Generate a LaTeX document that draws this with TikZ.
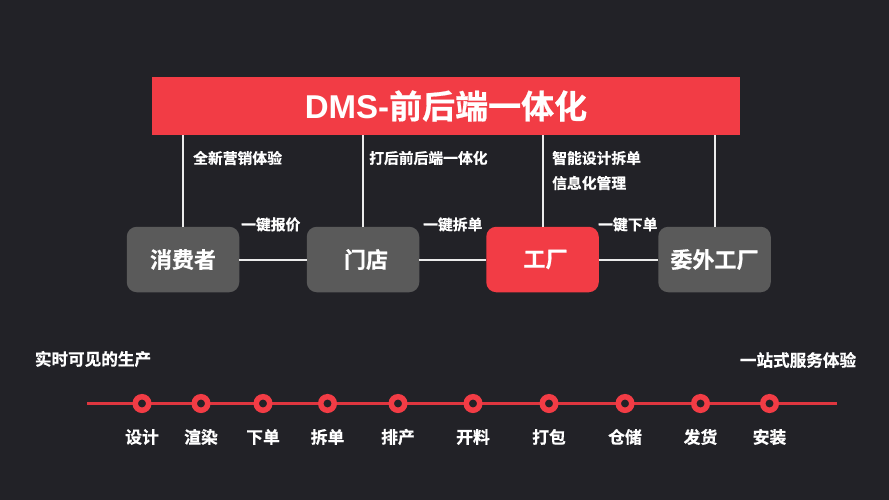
\documentclass[tikz,border=0pt]{standalone}
\usepackage{fontspec}
\setmainfont{Noto Sans CJK SC}[BoldFont={Noto Sans CJK SC Bold},BoldFeatures={FakeBold=0.6}]
\newfontfamily\titlelatin{Liberation Sans Bold}
\definecolor{bgdark}{HTML}{222227}
\definecolor{dmsred}{HTML}{F23C45}
\definecolor{boxgray}{HTML}{5A5A5A}
\definecolor{linered}{HTML}{DF363F}
\tikzset{
  every node/.style={text=white,font=\bfseries,inner sep=0pt},
  partybox/.style={fill=boxgray,rounded corners=10pt,minimum width=112.5pt,minimum height=65.5pt,font=\bfseries\fontsize{22}{22}\selectfont},
  redbox/.style={partybox,fill=dmsred},
  link/.style={draw=white!92!black,line width=2pt},
  note/.style={anchor=west,font=\bfseries\fontsize{14.8}{15}\selectfont},
  stagetag/.style={font=\bfseries\fontsize{16.6}{17}\selectfont},
  dot/.style={circle,draw=dmsred,line width=5.5pt,fill=bgdark,minimum size=13.5pt},
  daylabel/.style={font=\bfseries\fontsize{16.8}{17}\selectfont}
}
\begin{document}
\begin{tikzpicture}[x=1pt,y=-1pt]
  \useasboundingbox[fill=bgdark] (0,0) rectangle (889,500);
  \node[fill=dmsred,minimum width=588pt,minimum height=58pt,font=\bfseries\fontsize{33}{33}\selectfont] (header) at (446,106) {{\titlelatin DMS-}前后端一体化\hspace{3pt}};
  \node[partybox] (consumer) at (183,259.5) {消费者};
  \node[partybox] (store) at (363,259.5) {\hspace{6pt}门店};
  \node[redbox] (factory) at (542.5,259.5) {\hspace{6pt}工厂};
  \node[partybox] (outsource) at (714.5,259.5) {委外工厂};
  % risers up to the header
  \foreach \n in {consumer,store,factory,outsource}
    \draw[link] (\n.north) -- (\n.north |- header.south);
  \draw[link] (consumer) -- (store);
  \draw[link] (store) -- (factory);
  \draw[link] (factory) -- (outsource);
  \node[note] (noteA) at (193,158) {全新营销体验};
  \node[note] (noteB) at (369,158) {打后前后端一体化};
  \node[note] (noteC) at (552,158) {智能设计拆单};
  \node[note] (noteD) at (552,183) {信息化管理};
  \node[note] (quote) at (241,224.5) {一键报价};
  \node[note] (split) at (423,224.5) {一键拆单};
  \node[note] (order) at (598,224.5) {一键下单};
  \node[stagetag] (liveview) at (93,359) {实时可见的生产};
  \node[stagetag] (onestop) at (798,360) {一站式服务体验};
  % timeline
  \coordinate (tlstart) at (87,403.5);
  \coordinate (tlend) at (837,403.5);
  \draw[linered,line width=3pt] (tlstart) -- (tlend);
  \foreach \x/\t [count=\i] in {142/设计,201/渲染,263/下单,327.5/拆单,398/排产,473/开料,549/打包,625/仓储,700.5/发货,769.5/安装}{
    \node[dot] (d\i) at (\x,403.5) {};
    \node[daylabel] (l\i) at (\x,437) {\t};
  }
\end{tikzpicture}
\end{document}
